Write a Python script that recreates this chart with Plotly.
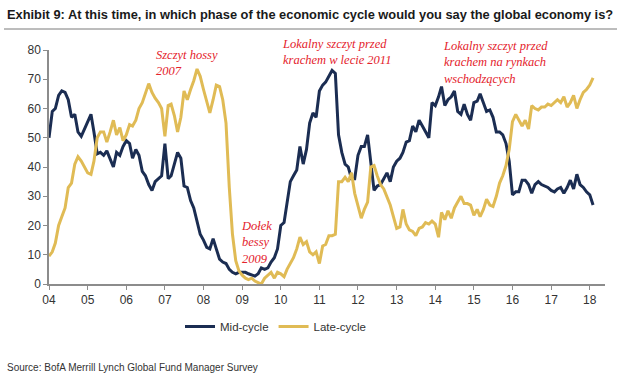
import plotly.graph_objects as go
import pandas as pd

# ---------------- data ----------------
start_month = "2004-01-01"
n_months = 170
dates = pd.date_range(start_month, periods=n_months, freq="MS")

mid_cycle = [
    50, 59, 60, 64.5, 66, 65.5, 63, 57, 58, 52, 50.5, 53,
    55, 58, 52, 44.5, 45, 44, 45.5, 43, 40, 45, 44, 47,
    49, 48, 43, 46, 44, 38.5, 37, 34, 32, 35, 36, 37,
    48, 36, 37, 41, 45, 43, 33.5, 33, 28.5, 26, 21, 17,
    15, 12.5, 12, 15.5, 12, 8.5, 7.5, 7, 5, 4, 3.5, 4,
    4, 4, 3.5, 3, 2.7, 3.5, 5.5, 5, 5.5, 7.5, 9, 12,
    20, 21, 27, 35, 37, 39, 47, 41, 46, 55, 58.5, 57,
    66, 68, 69, 71, 73, 72, 51, 45, 41, 40, 36, 36,
    44, 47, 47, 51, 41, 32, 33.5, 34, 36, 38, 35, 40,
    42, 43, 45, 48.5, 49, 54, 52, 56, 54, 52, 50, 62,
    61, 64, 67.5, 61, 63, 64, 66, 59, 58, 61.5, 58, 56,
    62, 62.5, 65, 62, 59, 59.5, 57, 52, 52, 51, 48, 42,
    30.5, 31.5, 31.5, 35.5, 35.5, 34, 31, 34, 35, 34, 33.5, 33,
    32, 31.5, 32.5, 33, 31, 33, 35.5, 32.5, 37.5, 34, 33, 31.5,
    30.5, 27,
]

late_cycle = [
    9.5, 11, 14, 20, 23, 26, 33, 34.5, 41, 43.5, 42, 40,
    38, 37.5, 42, 50, 52, 52, 48.5, 52, 56, 51, 53.5, 49,
    51, 54.5, 54, 56, 60, 62, 65, 68.5, 65.5, 63.5, 62, 60,
    50.5, 61, 61.5, 57.5, 52, 57, 66, 63, 66.5, 69.5, 73.5, 71,
    66.5, 62.5, 58.5, 63, 68, 67.5, 63, 55, 33, 17, 8, 4.5,
    3, 2, 1.5, 2, 1, 0.5, 0, 2, 3, 4, 2, 4,
    3.5, 2.5, 5, 7, 9, 12, 16, 13.5, 14.5, 11, 10, 11,
    7, 13, 13.5, 16.5, 16.5, 17, 35, 35, 36.5, 35, 38, 31,
    27, 22.5, 25.5, 28, 40, 40.5, 37, 34, 32.5, 30, 27, 23,
    19, 19.5, 25.5, 20.5, 18.5, 18, 16.5, 19, 19.5, 21, 20.5, 21.5,
    20.5, 16, 24.5, 22, 25, 22.5, 26, 28, 30, 27.5, 27.5, 27,
    23.5, 25.5, 23, 25.5, 29, 27, 26.5, 30, 34.5, 37, 40.5, 46,
    55.5, 58, 56, 54, 56, 53, 61, 60, 59.5, 60.5, 60.5, 61.5,
    61, 62, 63, 62, 64, 60.5, 62, 64.5, 60, 63, 65.5, 66.5,
    68, 70.5,
]

series_names = ["Mid-cycle", "Late-cycle"]
y_ticks = [0, 10, 20, 30, 40, 50, 60, 70, 80]

title_text = "Exhibit 9: At this time, in which phase of the economic cycle would you say the global economy is?"
source_text = "Source: BofA Merrill Lynch Global Fund Manager Survey"
notes = [
    "Szczyt hossy<br>2007",
    "Lokalny szczyt przed<br>krachem w lecie 2011",
    "Lokalny szczyt przed<br>krachem na rynkach<br>wschodzących",
    "Dołek<br>bessy<br>2009",
]

# ---------------- layout geometry (pixels) ----------------
W, H = 621, 385
L, R, T, B = 49, 16, 50, 101
PW, PH = W - L - R, H - T - B


def px(xp):
    return (xp - L) / PW


def py(yp):
    return (H - B - yp) / PH


NAVY = "#1b2d52"
GOLD = "#e0bb55"
RED = "#e4222b"
TXT = "#333333"
AXIS = "#8c8c8c"

fig = go.Figure()
fig.add_trace(go.Scatter(x=dates, y=mid_cycle, mode="lines", name=series_names[0],
                         line=dict(color=NAVY, width=3)))
fig.add_trace(go.Scatter(x=dates, y=late_cycle, mode="lines", name=series_names[1],
                         line=dict(color=GOLD, width=3)))

fig.update_layout(
    width=W, height=H,
    margin=dict(l=L, r=R, t=T, b=B, pad=0, autoexpand=False),
    paper_bgcolor="white", plot_bgcolor="white",
    font=dict(family="Liberation Sans, Arial", size=12, color=TXT),
    showlegend=True,
    legend=dict(orientation="h", x=px(180), y=py(312), xanchor="left", yanchor="top",
                font=dict(size=11.5, color=TXT), bgcolor="rgba(0,0,0,0)",
                itemwidth=30, tracegroupgap=0),
    xaxis=dict(
        type="date", range=["2004-01-01", "2018-05-25"],
        tick0="2004-01-01", dtick="M12", tickformat="%y",
        showgrid=False, zeroline=False,
        showline=True, linecolor=AXIS, linewidth=1.5,
        ticks="outside", ticklen=4, tickcolor=AXIS, tickwidth=1,
        tickfont=dict(size=12, color=TXT), automargin=False,
    ),
    yaxis=dict(
        range=[0, 80], tickvals=y_ticks,
        showgrid=False, zeroline=False,
        showline=True, linecolor=AXIS, linewidth=1.5,
        ticks="outside", ticklen=4, tickcolor=AXIS, tickwidth=1,
        tickfont=dict(size=12, color=TXT), automargin=False,
    ),
)

annotations = [
    dict(text="<b>" + title_text + "</b>", x=px(5), y=py(14), xanchor="left", yanchor="middle",
         font=dict(size=12.85, color="#1a1a1a", family="Liberation Sans, Arial")),
    dict(text=source_text, x=px(5), y=py(367), xanchor="left", yanchor="middle",
         font=dict(size=10, color=TXT, family="Liberation Sans, Arial")),
]
note_pos = [(154, 46), (280, 35), (441, 37), (239, 217)]
for txt, (nx, ny) in zip(notes, note_pos):
    annotations.append(dict(text="<i>" + txt + "</i>", x=px(nx), y=py(ny), xanchor="left", yanchor="top",
                            align="left",
                            font=dict(size=12.5, color=RED, family="Liberation Serif, serif")))
for a in annotations:
    a.update(xref="paper", yref="paper", showarrow=False)
fig.update_layout(annotations=annotations)

fig.add_shape(type="line", xref="paper", yref="paper", x0=px(4), x1=px(617), y0=py(29), y1=py(29),
              line=dict(color="#7a7a7a", width=1))

fig.write_html("out.html",
               config={"displayModeBar": False},
               post_script="document.body.style.margin='0';document.body.style.padding='0';")
